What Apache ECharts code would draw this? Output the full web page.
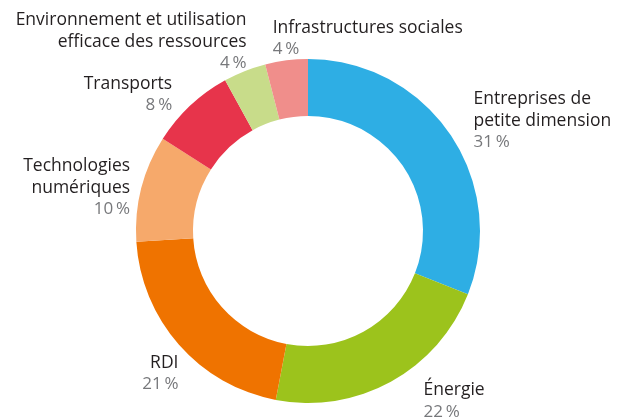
<!DOCTYPE html>
<html>
<head>
<meta charset="utf-8">
<script src="https://cdn.jsdelivr.net/npm/echarts@6/dist/echarts.min.js"></script>
<style>html,body{margin:0;padding:0;background:#fff}#c{width:617px;height:419px}</style>
</head>
<body>
<div id="c"></div>
<script>
const categories = [
  'Entreprises de\npetite dimension',
  'Énergie',
  'RDI',
  'Technologies\nnumériques',
  'Transports',
  'Environnement et utilisation\nefficace des ressources',
  'Infrastructures sociales'
];
const values = [31, 22, 21, 10, 8, 4, 4];
const colors = ['#2eaee4', '#9cc31c', '#ef7300', '#f6a96b', '#e7344b', '#c8dc8a', '#f08e8b'];

// layout (not data): label nudges from the radial anchor, in px
const labelNudge = [[5, -1], [22, 0], [16, 14], [10, 5], [-3, 5], [10, -9], [-11, 0]];

const CX = 308, CY = 231, R_IN = 115, R_OUT = 172, R_LABEL = 194;
const total = values.reduce((a, b) => a + b, 0);
const mids = [];
let acc = 0;
values.forEach(v => { mids.push((acc + v / 2) / total * 2 * Math.PI); acc += v; });

const chart = echarts.init(document.getElementById('c'), null, {renderer: 'canvas'});
chart.setOption({
  backgroundColor: '#fff',
  animation: false,
  series: [{
    type: 'pie',
    center: [CX, CY],
    radius: [R_IN, R_OUT],
    startAngle: 90,
    clockwise: true,
    avoidLabelOverlap: false,
    itemStyle: {borderWidth: 0},
    label: {
      show: true,
      position: 'outside',
      fontFamily: 'Open Sans',
      formatter: p => '{n|' + p.name + '}\n{p|' + p.value + '\u2009%}',
      rich: {
        n: {fontFamily: 'Open Sans', fontSize: 17.5, color: '#231f20', lineHeight: 21.5},
        p: {fontFamily: 'Open Sans', fontSize: 17, color: '#77787b', lineHeight: 21.5}
      }
    },
    labelLine: {show: false},
    labelLayout: function (params) {
      const i = params.dataIndex;
      const a = mids[i];
      const dx = Math.sin(a), dy = -Math.cos(a);
      return {
        x: CX + R_LABEL * dx + labelNudge[i][0],
        y: CY + R_LABEL * dy + labelNudge[i][1],
        align: dx < -0.2 ? 'right' : 'left',
        verticalAlign: 'middle'
      };
    },
    emphasis: {disabled: true},
    data: categories.map((c, i) => ({name: c, value: values[i], itemStyle: {color: colors[i]}}))
  }]
});
</script>
</body>
</html>
